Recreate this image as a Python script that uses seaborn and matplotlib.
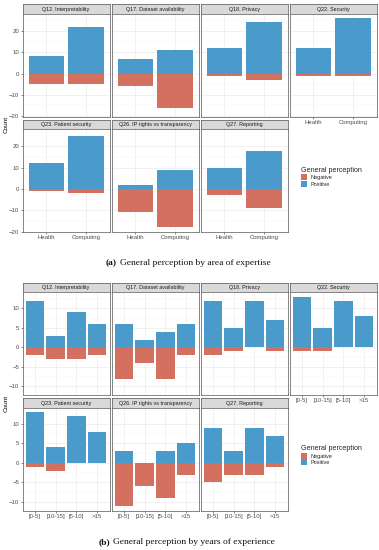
import numpy as np
import pandas as pd
import seaborn as sns
import matplotlib.pyplot as plt
from matplotlib.patches import Patch

questions = ["Q12. Interpretability", "Q17. Dataset availability", "Q18. Privacy",
             "Q22. Security", "Q23. Patient security", "Q26. IP rights vs transparency",
             "Q27. Reporting"]

areas = ["Health", "Computing"]
area_positive = [[8, 22], [7, 11], [12, 24], [12, 26], [12, 25], [2, 9], [10, 18]]
area_negative = [[-5, -5], [-6, -16], [-1, -3], [-1, -1], [-1, -2], [-11, -18], [-3, -9]]

years = ["[0-5]", "[10-15]", "[5-10]", ">15"]
years_positive = [[12, 3, 9, 6], [6, 2, 4, 6], [12, 5, 12, 7], [13, 5, 12, 8],
                  [13, 4, 12, 8], [3, 0, 3, 5], [9, 3, 9, 7]]
years_negative = [[-2, -3, -3, -2], [-8, -4, -8, -2], [-2, -1, 0, -1], [-1, -1, 0, 0],
                  [-1, -2, 0, 0], [-11, -6, -9, -3], [-5, -3, -3, -1]]

perceptions = ["Negative", "Positive"]
palette = {"Negative": "#D4705F", "Positive": "#4A9BCB"}

W, H = 379, 550
sns.set_theme(style="white")
plt.rcParams['font.family'] = ['Liberation Sans', 'DejaVu Sans']

fig = plt.figure(figsize=(W / 100, H / 100), dpi=100)
renderer = fig.canvas.get_renderer()
serif = ["Liberation Serif", "DejaVu Serif"]


def px(x, y, w, h):
    return [x / W, 1 - (y + h) / H, w / W, h / H]


def long_table(cats, pos, neg):
    rows = []
    for q, p_vals, n_vals in zip(questions, pos, neg):
        for c, p, n in zip(cats, p_vals, n_vals):
            rows.append({"question": q, "cat": c, "perception": "Negative", "count": n})
            rows.append({"question": q, "cat": c, "perception": "Positive", "count": p})
    return pd.DataFrame(rows)


def caption_text(x_start, y, tag, text):
    t = fig.text(x_start / W, 1 - y / H, tag, ha="left", va="center", fontsize=6.8,
                 family=serif, weight="bold", color="#111111")
    bb = t.get_window_extent(renderer=renderer)
    fig.text((bb.x1 + 2.5) / W, 1 - y / H, text, ha="left", va="center", fontsize=6.8,
             family=serif, color="#111111")


def draw_block(top, cats, pos, neg, major, minor, tag, caption, cap_x, count_y):
    df = long_table(cats, pos, neg)
    lo, hi = df["count"].min(), df["count"].max()
    pad = 0.05 * (hi - lo)
    left0, pw, gap = 22.7, 86.8, 2.2
    strip_h, panel_h, row_gap = 9.5, 103, 3
    for i, q in enumerate(questions):
        r, c = divmod(i, 4)
        x0 = left0 + c * (pw + gap)
        y_strip = top + r * (strip_h + panel_h + row_gap)
        sax = fig.add_axes(px(x0, y_strip, pw, strip_h))
        sax.set_facecolor("#D9D9D9")
        sax.set_xticks([]); sax.set_yticks([])
        for s in sax.spines.values():
            s.set_color("#555555"); s.set_linewidth(0.5)
        sax.text(0.5, 0.45, q, ha="center", va="center", fontsize=3.9,
                 color="#1A1A1A", transform=sax.transAxes)

        ax = fig.add_axes(px(x0, y_strip + strip_h, pw, panel_h))
        sub = df[df["question"] == q]
        sns.barplot(data=sub, x="cat", y="count", hue="perception", hue_order=perceptions,
                    order=cats, palette=palette, dodge=False, width=0.9, errorbar=None,
                    saturation=1, linewidth=0, legend=False, ax=ax)
        ax.set_xlim(-0.6, len(cats) - 0.4)
        ax.set_ylim(lo - pad, hi + pad)
        ax.set_yticks(major)
        ax.set_yticks(minor, minor=True)
        ax.set_axisbelow(True)
        ax.grid(which="major", color="#EBEBEB", lw=0.5)
        ax.grid(which="minor", axis="y", color="#F2F2F2", lw=0.3)
        ax.set_xlabel(""); ax.set_ylabel("")
        for s in ax.spines.values():
            s.set_color("#555555"); s.set_linewidth(0.5)
        bottom = (r == 1) or (i == 3)
        ax.tick_params(axis="x", bottom=bottom, labelbottom=bottom, length=1.5, width=0.4,
                       color="#333333", labelsize=4.3, labelcolor="#4D4D4D", pad=1)
        ax.tick_params(axis="y", left=(c == 0), labelleft=(c == 0), length=1.5, width=0.4,
                       color="#333333", labelsize=4.3, labelcolor="#4D4D4D", pad=1)
        ax.tick_params(which="minor", left=False)
    fig.text(6 / W, 1 - count_y / H, "Count", rotation=90, ha="center", va="center",
             fontsize=4.6, color="black")
    handles = [Patch(facecolor=palette[p], edgecolor="none", label=p) for p in perceptions]
    leg = fig.legend(handles=handles, title="General perception", loc="upper left",
                     bbox_to_anchor=(301 / W, 1 - (top + 163) / H), frameon=False,
                     fontsize=4.0, title_fontsize=5.1, handlelength=1.1, handleheight=1.3,
                     labelspacing=0.05, handletextpad=0.6, borderaxespad=0, borderpad=0)
    leg._legend_box.align = "left"
    caption_text(cap_x, top + 259.5, tag, caption)


draw_block(4, areas, area_positive, area_negative, [-20, -10, 0, 10, 20],
           [-15, -5, 5, 15, 25], "(a)", "General perception by area of expertise", 106, 124)
draw_block(282.5, years, years_positive, years_negative, [-10, -5, 0, 5, 10],
           [-7.5, -2.5, 2.5, 7.5, 12.5], "(b)", "General perception by years of experience",
           99, 403)

fig.savefig("out.png", dpi=100)
